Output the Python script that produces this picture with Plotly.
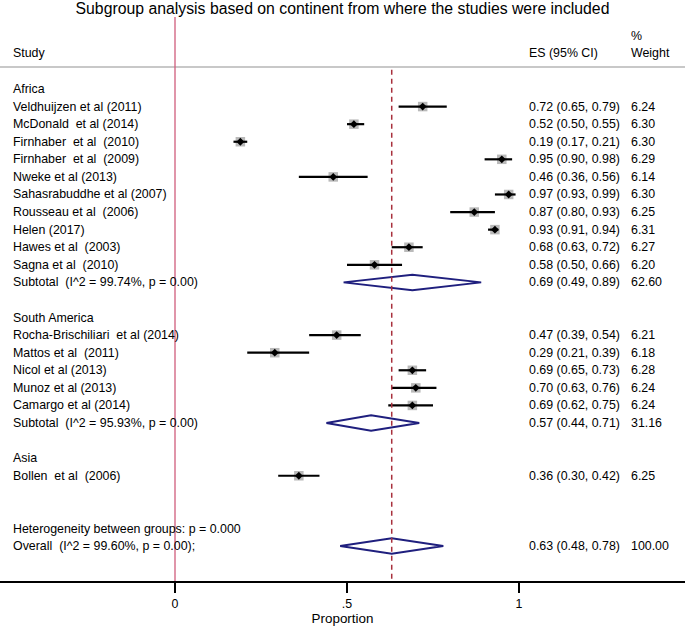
import plotly.graph_objects as go

# ---------------- data ----------------
africa_studies = ["Veldhuijzen et al (2011)", "McDonald  et al (2014)", "Firnhaber  et al  (2010)",
                  "Firnhaber  et al  (2009)", "Nweke et al (2013)", "Sahasrabuddhe et al (2007)",
                  "Rousseau et al  (2006)", "Helen (2017)", "Hawes et al  (2003)", "Sagna et al  (2010)"]
africa_es = [0.72, 0.52, 0.19, 0.95, 0.46, 0.97, 0.87, 0.93, 0.68, 0.58]
africa_lo = [0.65, 0.50, 0.17, 0.90, 0.36, 0.93, 0.80, 0.91, 0.63, 0.50]
africa_hi = [0.79, 0.55, 0.21, 0.98, 0.56, 0.99, 0.93, 0.94, 0.72, 0.66]
africa_w = ["6.24", "6.30", "6.30", "6.29", "6.14", "6.30", "6.25", "6.31", "6.27", "6.20"]

sa_studies = ["Rocha-Brischiliari  et al (2014)", "Mattos et al  (2011)", "Nicol et al (2013)",
              "Munoz et al (2013)", "Camargo et al (2014)"]
sa_es = [0.47, 0.29, 0.69, 0.70, 0.69]
sa_lo = [0.39, 0.21, 0.65, 0.63, 0.62]
sa_hi = [0.54, 0.39, 0.73, 0.76, 0.75]
sa_w = ["6.21", "6.18", "6.28", "6.24", "6.24"]

asia_studies = ["Bollen  et al  (2006)"]
asia_es = [0.36]
asia_lo = [0.30]
asia_hi = [0.42]
asia_w = ["6.25"]

subtotal_labels = ["Subtotal  (I^2 = 99.74%, p = 0.00)", "Subtotal  (I^2 = 95.93%, p = 0.00)"]
subtotal_es = [0.69, 0.57]
subtotal_lo = [0.49, 0.44]
subtotal_hi = [0.89, 0.71]
subtotal_w = ["62.60", "31.16"]

overall_label = "Overall  (I^2 = 99.60%, p = 0.00);"
overall_es = 0.63
overall_lo = 0.48
overall_hi = 0.78
overall_w = "100.00"
hetero_label = "Heterogeneity between groups: p = 0.000"

title_text = "Subgroup analysis based on continent from where the studies were included"
tick_vals = [0, 0.5, 1]
tick_text = ["0", ".5", "1"]

# ---------------- layout of rows ----------------
W, H = 685, 626
FONT = "Liberation Sans, Arial, sans-serif"
FS = 12.4
PX0, PX1 = 175.0, 519.0          # pixel positions of x=0 and x=1
xr = [(0 - PX0) / (PX1 - PX0), (W - PX0) / (PX1 - PX0)]

rows = []  # (row, label, es, lo, hi, weight, kind)
r = 0
rows.append((r, "Africa", None, None, None, None, "head")); r += 1
for s, e, l, h, w in zip(africa_studies, africa_es, africa_lo, africa_hi, africa_w):
    rows.append((r, s, e, l, h, w, "study")); r += 1
rows.append((r, subtotal_labels[0], subtotal_es[0], subtotal_lo[0], subtotal_hi[0], subtotal_w[0], "sub")); r += 2
rows.append((r, "South America", None, None, None, None, "head")); r += 1
for s, e, l, h, w in zip(sa_studies, sa_es, sa_lo, sa_hi, sa_w):
    rows.append((r, s, e, l, h, w, "study")); r += 1
rows.append((r, subtotal_labels[1], subtotal_es[1], subtotal_lo[1], subtotal_hi[1], subtotal_w[1], "sub")); r += 2
rows.append((r, "Asia", None, None, None, None, "head")); r += 1
for s, e, l, h, w in zip(asia_studies, asia_es, asia_lo, asia_hi, asia_w):
    rows.append((r, s, e, l, h, w, "study")); r += 1
r += 2
rows.append((r, hetero_label, None, None, None, None, "head")); r += 1
rows.append((r, overall_label, overall_es, overall_lo, overall_hi, overall_w, "overall"))

ROW_PX = 17.58
top_px, axis_px = 17.0, 581.0
row0_px = 89.0
y_bottom = (axis_px - row0_px) / ROW_PX
y_top = (top_px - row0_px) / ROW_PX

fig = go.Figure()

bx, by = [], []
lx, ly = [], []
dx, dy = [], []
for (rr, lab, e, l, h, w, kind) in rows:
    if kind == "study":
        bx.append(e); by.append(rr)
        lx += [l, h, None]; ly += [rr, rr, None]
        dx.append(e); dy.append(rr)

fig.add_trace(go.Scatter(x=bx, y=by, mode="markers",
                         marker=dict(symbol="square", size=9.5, color="#b9b9b9", line=dict(width=0)),
                         hoverinfo="skip", showlegend=False))
fig.add_trace(go.Scatter(x=lx, y=ly, mode="lines", line=dict(color="black", width=2.2),
                         hoverinfo="skip", showlegend=False))
fig.add_trace(go.Scatter(x=dx, y=dy, mode="markers",
                         marker=dict(symbol="diamond", size=6, color="black", line=dict(width=0)),
                         hoverinfo="skip", showlegend=False))

DH = 0.44
for (rr, lab, e, l, h, w, kind) in rows:
    if kind in ("sub", "overall"):
        fig.add_trace(go.Scatter(x=[l, e, h, e, l], y=[rr, rr - DH, rr, rr + DH, rr], mode="lines",
                                 line=dict(color="#1f1f7e", width=2),
                                 hoverinfo="skip", showlegend=False))

ann = []
def txt(xpx, yrow, s, size=FS):
    ann.append(dict(x=xpx / W, xref="paper", y=yrow, yref="y", text=s, showarrow=False,
                    xanchor="left", yanchor="middle", font=dict(family=FONT, size=size, color="black")))

STUDY_PX, ES_PX, W_PX = 10.5, 527.0, 628.5
for (rr, lab, e, l, h, w, kind) in rows:
    txt(STUDY_PX, rr, lab)
    if e is not None:
        txt(ES_PX, rr, f"{e:.2f} ({l:.2f}, {h:.2f})")
        txt(W_PX, rr, w)

txt(STUDY_PX, -2.05, "Study")
txt(ES_PX, -2.05, "ES (95% CI)")
txt(W_PX, -3.0, "%")
txt(W_PX, -2.05, "Weight")

shapes = [
    dict(type="line", xref="paper", yref="y", x0=0, x1=1, y0=-1.25, y1=-1.25,
         line=dict(color="#c8c8c8", width=2)),
    dict(type="line", xref="x", yref="paper", x0=0, x1=0, y0=0, y1=1,
         line=dict(color="#cf5c7c", width=1.3)),
    dict(type="line", xref="x", yref="y", x0=overall_es, x1=overall_es, y0=-1.1, y1=y_bottom,
         line=dict(color="#a8303c", width=1.5, dash="5px,4px")),
]

fig.update_layout(
    width=W, height=H,
    margin=dict(l=0, r=0, t=top_px, b=H - axis_px),
    paper_bgcolor="white", plot_bgcolor="white",
    title=dict(text=title_text, x=0.5, xanchor="center", y=1 - 8.5 / H, yanchor="middle",
               yref="container", font=dict(family=FONT, size=15.8, color="black")),
    xaxis=dict(range=xr, tickvals=tick_vals, ticktext=tick_text, showgrid=False, zeroline=False,
               showline=True, linecolor="black", linewidth=1.5, ticks="outside", ticklen=10,
               tickwidth=1.8, tickcolor="black",
               tickfont=dict(family=FONT, size=FS, color="black"),
               title=dict(text="Proportion", standoff=2, font=dict(family=FONT, size=FS + 1, color="black"))),
    yaxis=dict(range=[y_bottom, y_top], visible=False, showgrid=False, zeroline=False),
    annotations=ann, shapes=shapes, showlegend=False,
)

fig.write_html("out.html", config={"displayModeBar": False},
               post_script="document.body.style.margin='0';document.body.style.overflow='hidden';")
